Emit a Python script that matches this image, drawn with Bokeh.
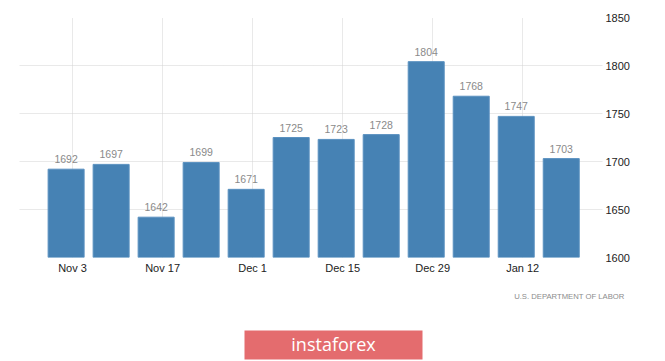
import pandas as pd
from bokeh.plotting import figure
from bokeh.layouts import column
from bokeh.models import Range1d, FixedTicker, ColumnDataSource
from bokeh.core.properties import value
from bokeh.embed import file_html
from bokeh.resources import INLINE

# ---- data ----
bar_dates = ["2019-11-02", "2019-11-09", "2019-11-16", "2019-11-23", "2019-11-30",
             "2019-12-07", "2019-12-14", "2019-12-21", "2019-12-28",
             "2020-01-04", "2020-01-11", "2020-01-18"]
claims = [1692, 1697, 1642, 1699, 1671, 1725, 1723, 1728, 1804, 1768, 1747, 1703]
tick_dates = ["2019-11-03", "2019-11-17", "2019-12-01", "2019-12-15", "2019-12-29", "2020-01-12"]
tick_labels = ["Nov 3", "Nov 17", "Dec 1", "Dec 15", "Dec 29", "Jan 12"]
y_ticks = [1600, 1650, 1700, 1750, 1800, 1850]
source_text = "U.S. DEPARTMENT OF LABOR"
brand = "instaforex"

DAY = 86400000
FONT = "Liberation Sans"

dates = pd.to_datetime(bar_dates)
src = ColumnDataSource(dict(x=dates, y=claims, label=[str(v) for v in claims]))

x_start = pd.Timestamp("2019-10-25 18:00")
x_end = pd.Timestamp("2020-01-24 10:00")

p = figure(width=665, height=280, x_axis_type="datetime",
           x_range=Range1d(x_start, x_end), y_range=Range1d(1600, 1850),
           y_axis_location="right", output_backend="svg", toolbar_location=None,
           min_border_left=19, min_border_right=63, min_border_top=17, min_border_bottom=23)
p.outline_line_color = None
p.background_fill_color = "white"

p.vbar(x="x", top="y", bottom=1600, width=5.6 * DAY, source=src,
       fill_color="#4682B4", line_color="#5a91c0", line_width=1)
p.text(x="x", y="y", text="label", source=src, y_offset=-10,
       text_align="center", text_baseline="alphabetic",
       text_font=value(FONT), text_font_size="10.5px", text_color="#8a8a8a")

tick_ms = [int(t.value // 10**6) for t in pd.to_datetime(tick_dates)]
p.xaxis.ticker = FixedTicker(ticks=tick_ms)
p.xaxis.major_label_overrides = {float(t): l for t, l in zip(tick_ms, tick_labels)}
p.yaxis.ticker = FixedTicker(ticks=y_ticks)

for ax in (p.xaxis, p.yaxis):
    ax.axis_line_color = None
    ax.major_tick_line_color = None
    ax.minor_tick_line_color = None
    ax.major_tick_out = 0
    ax.major_label_text_font = FONT
    ax.major_label_text_font_size = "11px"
    ax.major_label_text_color = "#222222"
p.xaxis.major_label_standoff = 4
p.yaxis.major_label_standoff = 3

p.xgrid.ticker = FixedTicker(ticks=tick_ms)
for g in (p.xgrid, p.ygrid):
    g.grid_line_color = "#d2d2d2"
    g.grid_line_dash = "1 1"
    g.grid_line_width = 1

# ---- footer (source note and logo badge) ----
f = figure(width=665, height=81, x_range=Range1d(0, 665), y_range=Range1d(81, 0),
           x_axis_type=None, y_axis_type=None, output_backend="svg",
           toolbar_location=None, min_border=0)
f.outline_line_color = None
f.xgrid.visible = False
f.ygrid.visible = False
f.text(x=[624], y=[16], text=[source_text], text_align="right", text_baseline="middle",
       text_font=value(FONT), text_font_size="7.7px", text_color="#8c8c8c")
f.quad(left=[244], right=[422], top=[50], bottom=[79],
       fill_color="#e46c6e", line_color=None)
f.text(x=[333], y=[63], text=[brand], text_align="center", text_baseline="middle",
       text_font=value("Open Sans"), text_font_size="18px", text_color="white")

for fig in (p, f):
    try:
        fig.frame_align = False
    except Exception:
        pass

layout = column(p, f, spacing=0)
open("out.html", "w").write(file_html(layout, INLINE))
